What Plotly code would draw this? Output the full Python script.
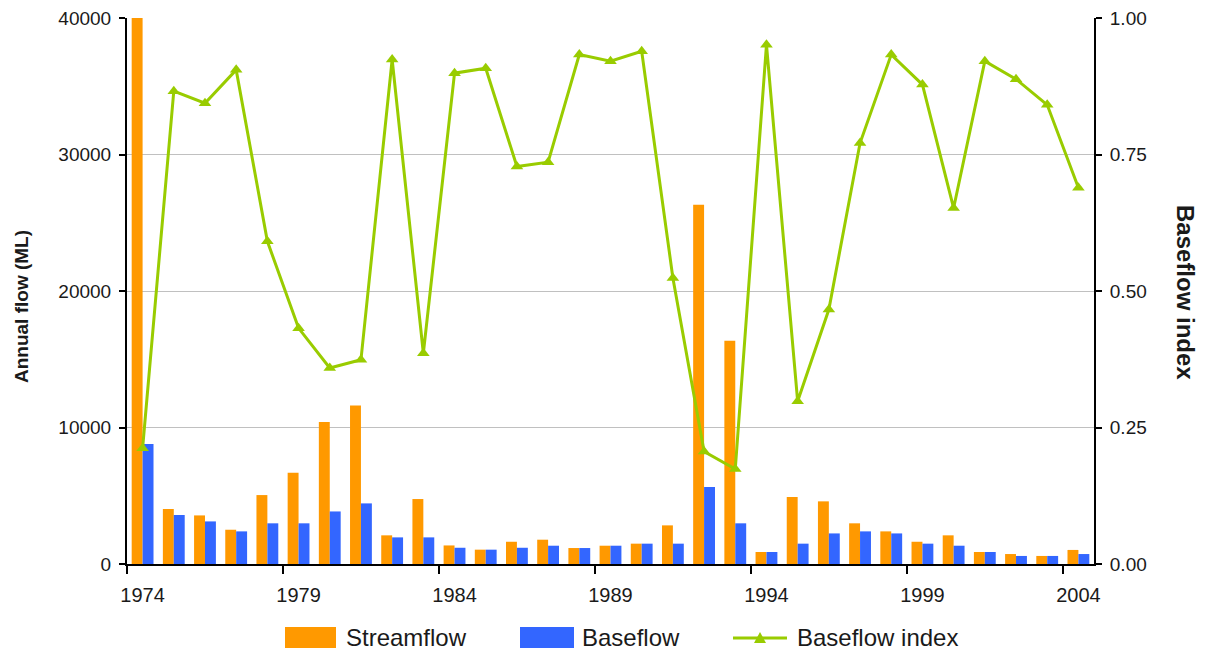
import plotly.graph_objects as go

years = list(range(1974, 2005))
streamflow = [41000, 4030, 3560, 2510, 5050, 6690, 10400, 11620, 2100, 4760,
              1360, 1050, 1630, 1780, 1170, 1340, 1490, 2830, 26320, 16360,
              880, 4910, 4590, 2980, 2390, 1630, 2100, 880, 730, 590, 1030]
baseflow = [8800, 3590, 3120, 2390, 2980, 2980, 3850, 4440, 1950, 1950,
            1190, 1050, 1190, 1340, 1170, 1340, 1490, 1490, 5640, 2980,
            880, 1490, 2240, 2390, 2240, 1490, 1340, 880, 590, 590, 730]
bfi = [0.212, 0.866, 0.844, 0.905, 0.591, 0.432, 0.359, 0.374, 0.924, 0.386,
       0.899, 0.908, 0.728, 0.736, 0.933, 0.921, 0.939, 0.524, 0.206, 0.174,
       0.951, 0.298, 0.466, 0.771, 0.933, 0.878, 0.652, 0.921, 0.888, 0.841, 0.689]
label_years = [1974, 1979, 1984, 1989, 1994, 1999, 2004]
left_ticks = [0, 10000, 20000, 30000, 40000]
left_labels = ["0", "10000", "20000", "30000", "40000"]
right_ticks = [0, 0.25, 0.5, 0.75, 1.0]
right_labels = ["0.00", "0.25", "0.50", "0.75", "1.00"]
legend_names = ["Streamflow", "Baseflow", "Baseflow index"]

ORANGE = "#FF9900"
BLUE = "#3366FF"
GREEN = "#99CC00"
FONT = "Liberation Sans, Arial, sans-serif"
TXT = "#1a1a1a"

# the page body has an 8px margin, so the figure is sized/offset to compensate
OFF = 8
W, H = 1205 - OFF, 654 - OFF
PL, PR, PT, PB = 127, 1094, 18, 564          # plot area in page pixels
L, T = PL - OFF, PT - OFF
R, B = W - (PR - OFF), H - (PB - OFF)
PW, PH = PR - PL, PB - PT


def pxx(x):
    return (x - PL) / PW


def pxy(y):
    return (PB - y) / PH


fig = go.Figure()
fig.add_trace(go.Bar(x=years, y=streamflow, name=legend_names[0],
                     marker=dict(color=ORANGE, line=dict(width=0))))
fig.add_trace(go.Bar(x=years, y=baseflow, name=legend_names[1],
                     marker=dict(color=BLUE, line=dict(width=0))))
fig.add_trace(go.Scatter(x=years, y=bfi, name=legend_names[2], yaxis="y2",
                         mode="lines+markers",
                         line=dict(color=GREEN, width=3),
                         marker=dict(symbol="triangle-up", size=11, color=GREEN)))

# manual legend (symbols as shapes, labels as text)
shapes = [
    dict(type="rect", xref="paper", yref="paper", x0=pxx(285), x1=pxx(336),
         y0=pxy(648), y1=pxy(627), fillcolor=ORANGE, line=dict(width=0)),
    dict(type="rect", xref="paper", yref="paper", x0=pxx(520), x1=pxx(574),
         y0=pxy(648), y1=pxy(627), fillcolor=BLUE, line=dict(width=0)),
    dict(type="line", xref="paper", yref="paper", x0=pxx(733), x1=pxx(787),
         y0=pxy(638), y1=pxy(638), line=dict(color=GREEN, width=3)),
    dict(type="path", xref="paper", yref="paper",
         path="M %f,%f L %f,%f L %f,%f Z" % (pxx(754), pxy(643), pxx(766), pxy(643),
                                              pxx(760), pxy(632)),
         fillcolor=GREEN, line=dict(width=0)),
]

annotations = [
    dict(text="<b>Annual flow (ML)</b>", xref="paper", yref="paper",
         x=pxx(21), y=pxy(307), xanchor="center", yanchor="middle",
         textangle=-90, showarrow=False,
         font=dict(size=19, color=TXT)),
    dict(text="<b>Baseflow index</b>", xref="paper", yref="paper",
         x=pxx(1186), y=pxy(292), xanchor="center", yanchor="middle",
         textangle=90, showarrow=False,
         font=dict(size=24, color=TXT)),
]
for name, xl in zip(legend_names, [344, 580, 795]):
    annotations.append(dict(text=name, xref="paper", yref="paper",
                            x=pxx(xl), y=pxy(637), xanchor="left", yanchor="middle",
                            showarrow=False, font=dict(size=24, color=TXT)))

fig.update_layout(
    width=W, height=H,
    margin=dict(l=L, r=R, t=T, b=B, pad=0, autoexpand=False),
    paper_bgcolor="white", plot_bgcolor="white",
    barmode="group", bargap=0.3, bargroupgap=0.0,
    font=dict(family=FONT, size=18, color=TXT),
    showlegend=False,
    xaxis=dict(range=[1973.5, 2004.5], tickmode="array", tickvals=label_years,
               ticktext=[str(y) for y in label_years],
               ticks="outside", ticklen=12, tickcolor="rgba(0,0,0,0)",
               showline=True, linecolor="black", linewidth=2,
               showgrid=False, zeroline=False,
               tickfont=dict(size=20, color=TXT),
               minor=dict(tickmode="array",
                          tickvals=[y - 0.5 for y in label_years],
                          ticks="outside", ticklen=8, tickcolor="black", tickwidth=2,
                          showgrid=False)),
    yaxis=dict(range=[0, 40000], tickmode="array", tickvals=left_ticks,
               ticktext=left_labels,
               ticks="outside", ticklen=6, tickwidth=2, tickcolor="black",
               ticklabelstandoff=4, ticklabeloverflow="allow",
               showline=True, linecolor="black", linewidth=2,
               showgrid=True, gridcolor="#C0C0C0", gridwidth=1, zeroline=False,
               tickfont=dict(size=19, color=TXT)),
    yaxis2=dict(range=[0, 1], overlaying="y", side="right", tickmode="array",
                tickvals=right_ticks, ticktext=right_labels,
                ticks="outside", ticklen=6, tickwidth=2, tickcolor="black",
                ticklabelstandoff=4, ticklabeloverflow="allow",
                showline=True, linecolor="black", linewidth=2,
                showgrid=False, zeroline=False,
                tickfont=dict(size=19, color=TXT)),
    shapes=shapes,
    annotations=annotations,
)

fig.write_html("out.html")
